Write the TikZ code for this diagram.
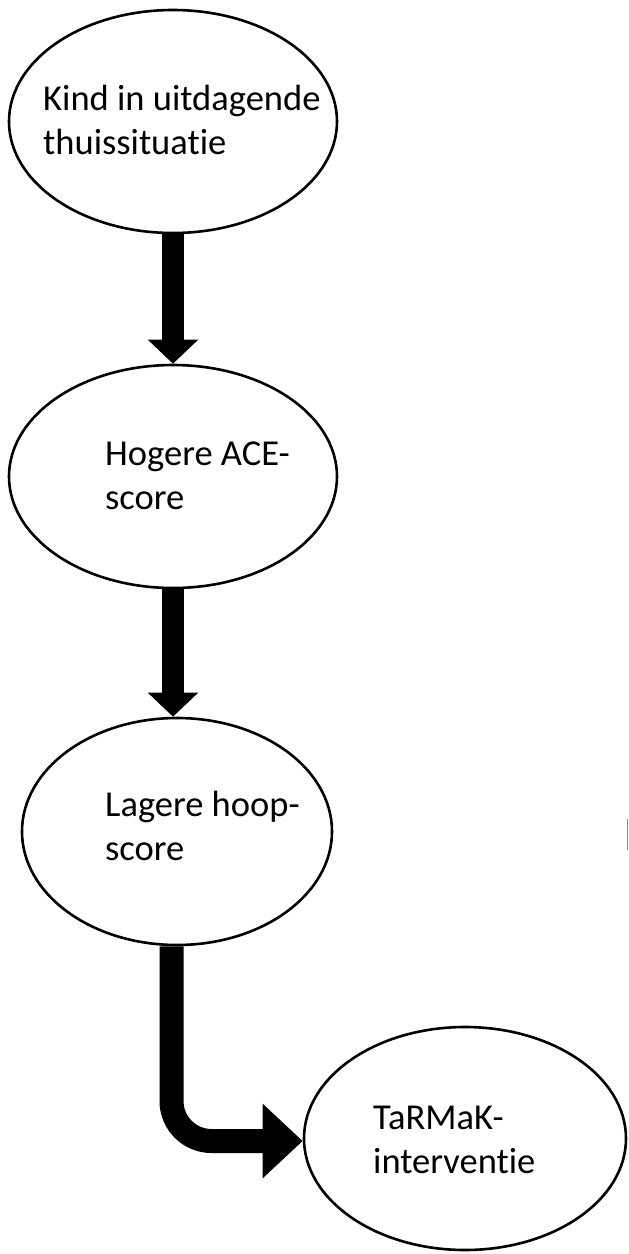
\documentclass[tikz,border=0pt]{standalone}
\usepackage{fontspec}
\setmainfont{Carlito}[Ligatures=NoCommon]
\usetikzlibrary{shapes.geometric,arrows.meta}
\tikzset{
  oval/.style={draw=black, line width=2.6pt, ellipse, inner sep=0pt, fill=white},
  lbl/.style={anchor=base west, align=left, inner sep=0pt, font=\fontsize{36.5}{44}\selectfont},
  flow/.style={line width=22pt, draw=black, -{Triangle[width=49pt,length=24pt]}},
  elbowflow/.style={line width=24pt, draw=black, rounded corners=40pt, -{Triangle[width=72pt,length=40pt]}},
  stray/.style={draw=black!45, line width=0.8pt}
}
\begin{document}
\begin{tikzpicture}[x=1pt,y=-1pt]
\useasboundingbox (0,0) rectangle (629,1254);
\node[oval, minimum width=328pt, minimum height=223pt] (e1) at (173,121.5) {};
\node[oval, minimum width=328pt, minimum height=223pt] (e2) at (173,476.5) {};
\node[oval, minimum width=310pt, minimum height=227pt] (e3) at (177,831.5) {};
\node[oval, minimum width=322pt, minimum height=223pt] (e4) at (465,1138.5) {};
\node[lbl] (t1) at (43,154) {Kind in uitdagende\\thuissituatie};
\node[lbl] (t2) at (105,509) {Hogere ACE-\\score};
\node[lbl] (t3) at (105,860) {Lagere hoop-\\score};
\node[lbl] (t4) at (373,1173) {TaRMaK-\\interventie};
\draw[flow] (e1.south) -- (e2.north);
\draw[flow] (e2.south) -- ([xshift=-4pt]e3.north);
\draw[elbowflow] ([xshift=-5.5pt]e3.south) |- ([yshift=-2.5pt]e4.west);
\coordinate (m1) at (627.6,819);
\coordinate (m2) at (627.6,850);
\draw[stray] (m1) -- (m2);
\end{tikzpicture}
\end{document}
